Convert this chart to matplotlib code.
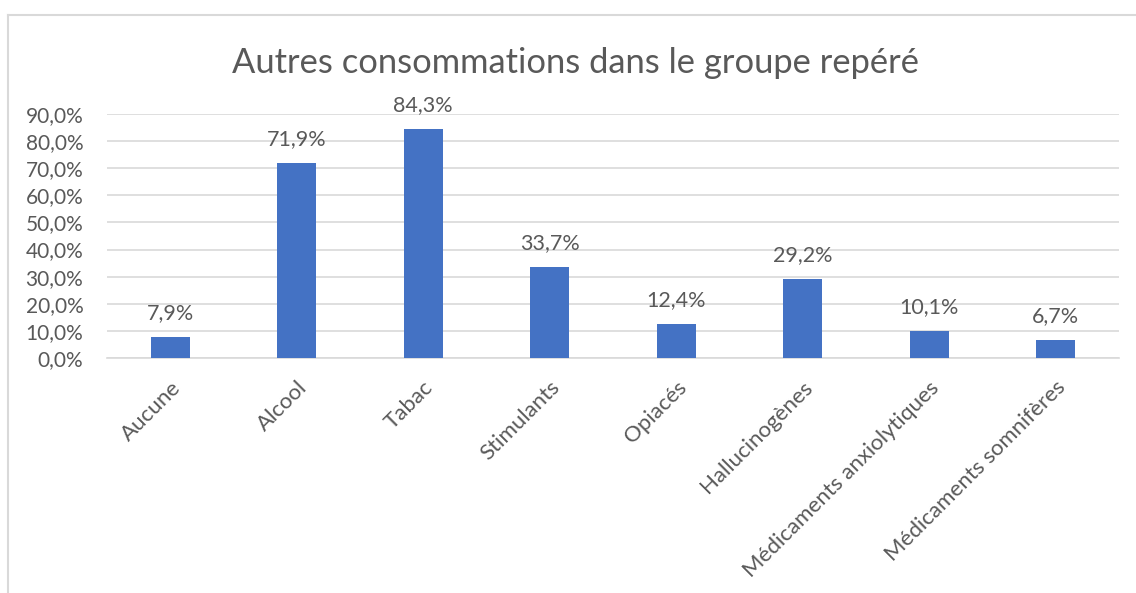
import matplotlib.pyplot as plt
from matplotlib.lines import Line2D

# données : autres consommations dans le groupe repéré (%)
categories = ["Aucune", "Alcool", "Tabac", "Stimulants", "Opiacés",
              "Hallucinogènes", "Médicaments anxiolytiques", "Médicaments somnifères"]
valeurs = [7.9, 71.9, 84.3, 33.7, 12.4, 29.2, 10.1, 6.7]
graduations = [0, 10, 20, 30, 40, 50, 60, 70, 80, 90]

gris = "#595959"
plt.rcParams['font.family'] = ['Lato', 'DejaVu Sans']

fig = plt.figure(figsize=(11.36, 5.93), dpi=100)
ax = fig.add_axes([0.0942, 0.3963, 0.8908, 0.4115])

x = range(len(categories))
bars = ax.bar(x, valeurs, width=0.31, color="#4472C4", zorder=3)

for b, v in zip(bars, valeurs):
    ax.annotate(("%.1f%%" % v).replace(".", ","),
                (b.get_x() + b.get_width() / 2, v),
                xytext=(0, 10), textcoords="offset points",
                ha="center", va="bottom", fontsize=15.5, color=gris)

ax.set_xlim(-0.5, len(categories) - 0.5)
ax.set_ylim(0, 90)
ax.set_yticks(graduations)
ax.set_yticklabels([("%.1f%%" % g).replace(".", ",") for g in graduations])
ax.yaxis.grid(True, color="#D9D9D9", linewidth=1.2, zorder=0)
ax.set_xticks(list(x))
ax.set_xticklabels(categories, rotation=45, ha="right", rotation_mode="anchor")
ax.tick_params(axis="both", length=0, labelcolor=gris)
ax.tick_params(axis="y", labelsize=15, pad=17)
ax.tick_params(axis="x", labelsize=16, pad=14)
for s in ["left", "right", "top"]:
    ax.spines[s].set_visible(False)
ax.spines["bottom"].set_color("#D9D9D9")
ax.spines["bottom"].set_linewidth(1.2)

fig.text(0.507, 0.893, "Autres consommations dans le groupe repéré",
         ha="center", va="center", fontsize=24.8, color=gris)

# cadre du graphique
fig.add_artist(Line2D([8 / 1136, 8 / 1136], [0, 1 - 15 / 593], color="#D9D9D9", lw=1.5))
fig.add_artist(Line2D([8 / 1136, 1], [1 - 15 / 593, 1 - 15 / 593], color="#D9D9D9", lw=1.5))

fig.savefig("out.png", dpi=100)
